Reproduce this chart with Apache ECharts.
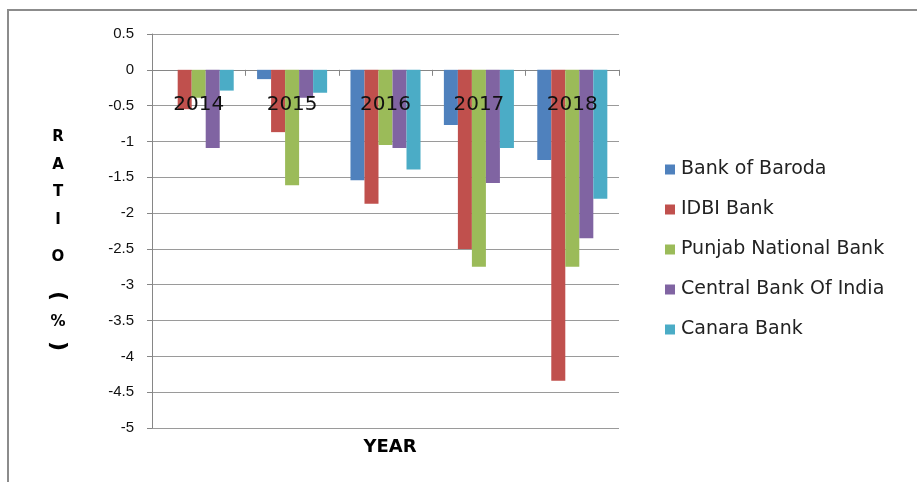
<!DOCTYPE html>
<html>
<head>
<meta charset="utf-8">
<script src="https://cdn.jsdelivr.net/npm/echarts@6/dist/echarts.min.js"></script>
<style>
html,body{margin:0;padding:0;background:#fff;}
#chart{width:917px;height:482px;}
</style>
</head>
<body>
<div id="chart"></div>
<script>
var categories = ['2014', '2015', '2016', '2017', '2018'];
var seriesNames = ['Bank of Baroda', 'IDBI Bank', 'Punjab National Bank', 'Central Bank Of India', 'Canara Bank'];
var bankOfBaroda = [0, -0.13, -1.54, -0.77, -1.26];
var idbiBank = [-0.55, -0.87, -1.87, -2.50, -4.34];
var punjabNationalBank = [-0.39, -1.61, -1.05, -2.75, -2.75];
var centralBankOfIndia = [-1.09, -0.39, -1.09, -1.58, -2.35];
var canaraBank = [-0.29, -0.32, -1.39, -1.09, -1.80];
var colors = ['#4F81BD', '#C0504D', '#9BBB59', '#8064A2', '#4BACC6'];
var yTitleChars = ['R', 'A', 'T', 'I', 'O', '(', '%', ')'];
var xTitle = 'YEAR';

var allData = [bankOfBaroda, idbiBank, punjabNationalBank, centralBankOfIndia, canaraBank];

var chart = echarts.init(document.getElementById('chart'));

var yTitleY = [137, 165, 192, 220, 257, 296, 322, 346];
var graphics = [{
  type: 'polyline',
  shape: { points: [[8, 482], [8, 10], [917, 10]] },
  style: { stroke: '#8c8c8c', lineWidth: 2, fill: null },
  silent: true
}, {
  type: 'text',
  x: 390, y: 447,
  style: { text: xTitle, font: 'bold 18px "DejaVu Sans"', fill: '#000', align: 'center', verticalAlign: 'middle' }
}];
yTitleChars.forEach(function (c, i) {
  var isParen = (c === '(' || c === ')');
  graphics.push({
    type: 'text',
    x: 58, y: yTitleY[i],
    originX: 0, originY: 0,
    rotation: isParen ? -Math.PI / 2 : 0,
    style: {
      text: c,
      font: isParen ? 'bold 22px "DejaVu Sans"' : 'bold 15px "DejaVu Sans"',
      fill: '#000', align: 'center', verticalAlign: 'middle'
    }
  });
});

chart.setOption({
  animation: false,
  color: colors,
  grid: { left: 152, right: 298, top: 34, bottom: 54 },
  legend: {
    orient: 'vertical',
    left: 660,
    top: 155,
    itemWidth: 10,
    itemHeight: 10,
    itemGap: 21,
    icon: 'rect',
    textStyle: { fontFamily: 'DejaVu Sans', fontSize: 19, color: '#222', padding: [0, 0, 0, 1] },
    data: seriesNames
  },
  xAxis: [{
    type: 'category',
    data: categories,
    axisLine: { onZero: true, lineStyle: { color: '#868686', width: 1 } },
    axisTick: { show: true, interval: 0, length: 6, lineStyle: { color: '#868686' } },
    axisLabel: { show: false },
    splitLine: { show: false }
  }, {
    type: 'category',
    data: categories,
    position: 'top',
    z: 10,
    axisLine: { show: false, onZero: false },
    axisTick: { show: false },
    axisLabel: { show: true, inside: true, interval: 0, margin: 61, fontFamily: 'DejaVu Sans', fontSize: 20, color: '#111' },
    splitLine: { show: false }
  }],
  yAxis: {
    type: 'value',
    min: -5,
    max: 0.5,
    interval: 0.5,
    axisLine: { show: true, lineStyle: { color: '#868686' } },
    axisTick: { show: true, length: 5, lineStyle: { color: '#868686' } },
    axisLabel: { margin: 18, fontFamily: 'Liberation Sans', fontSize: 15, color: '#111' },
    splitLine: { show: true, lineStyle: { color: '#9a9a9a', width: 1 } }
  },
  series: seriesNames.map(function (name, i) {
    return {
      name: name,
      type: 'bar',
      xAxisIndex: 0,
      data: allData[i],
      barGap: '0%',
      barCategoryGap: '25%',
      itemStyle: { color: colors[i] }
    };
  }),
  graphic: graphics
});
</script>
</body>
</html>
